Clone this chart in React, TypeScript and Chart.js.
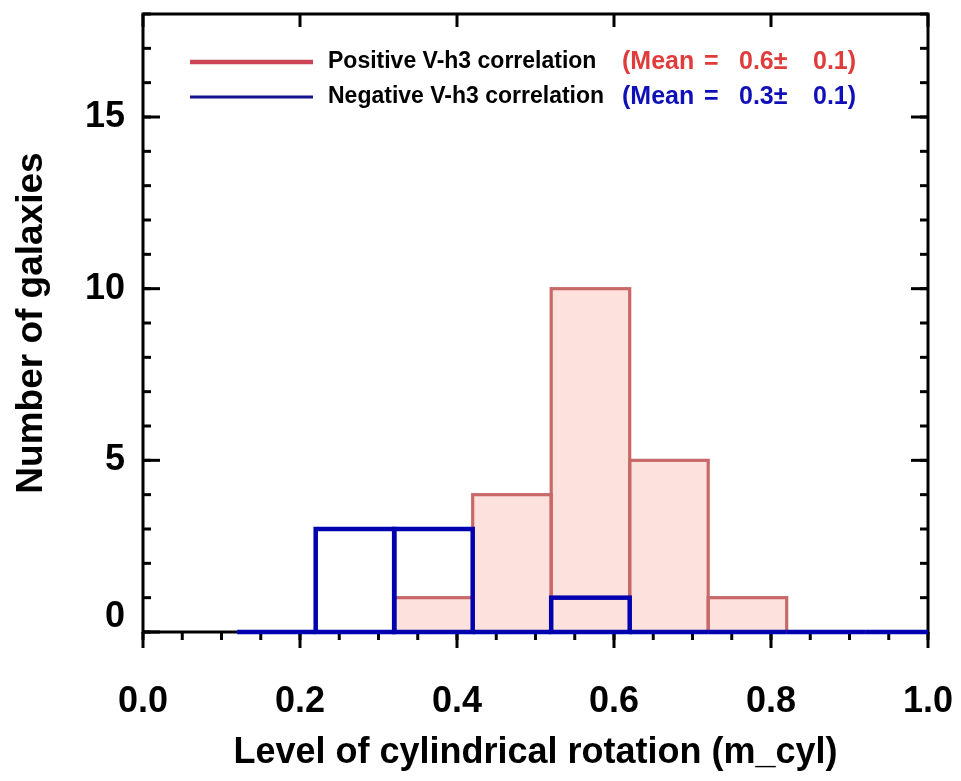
import React, { useEffect, useRef } from "react";
import { Chart, registerables } from "chart.js";

Chart.register(...registerables);

// ---- data ----
const binCenters = [0.17, 0.27, 0.37, 0.47, 0.57, 0.67, 0.77, 0.87, 0.97];
const positiveCounts = [0, 0, 1, 4, 10, 5, 1, 0, 0];
const negativeCounts = [0, 3, 3, 0, 1, 0, 0, 0, 0];

const xRange = [0, 1];
const yRange = [0, 18];
const xTickValues = [0, 0.2, 0.4, 0.6, 0.8, 1.0];
const xTickLabels = ["0.0", "0.2", "0.4", "0.6", "0.8", "1.0"];
const xMinorStep = 0.05;
const yTickValues = [0, 5, 10, 15];
const yTickLabels = ["0", "5", "10", "15"];
const yMinorStep = 1;

const legendLabels = ["Positive V-h3 correlation", "Negative V-h3 correlation"];
const meanValues = ["0.6±", "0.3±"];
const meanErrors = ["0.1)", "0.1)"];

const xTitle = "Level of cylindrical rotation (m_cyl)";
const yTitle = "Number of galaxies";

const FONT = "'Liberation Sans', Arial, Helvetica, sans-serif";
const RED_LINE = "#c86868";
const RED_FILL = "#fde1dd";
const BLUE_LINE = "#0000b0";

const outlinePlugin = {
  id: "histOutline",
  afterDatasetDraw(chart: any, args: any) {
    const ds: any = chart.data.datasets[args.index];
    if (!ds.outlineColor) return;
    const { ctx, chartArea } = chart;
    ctx.save();
    ctx.beginPath();
    ctx.rect(
      chartArea.left,
      chartArea.top - 20,
      chartArea.right - chartArea.left,
      chartArea.bottom - chartArea.top + 40
    );
    ctx.clip();
    ctx.strokeStyle = ds.outlineColor;
    ctx.lineWidth = ds.outlineWidth;
    ctx.lineJoin = "miter";
    args.meta.data.forEach((el: any) => {
      const { x, y, base, width } = el.getProps(["x", "y", "base", "width"], true);
      ctx.strokeRect(x - width / 2, Math.min(y, base), width, Math.abs(base - y));
    });
    ctx.restore();
  },
};

const framePlugin = {
  id: "frameTicks",
  beforeDatasetsDraw(chart: any) {
    const { ctx, chartArea, scales } = chart;
    const { left, right, top, bottom } = chartArea;
    const xs = scales.x;
    const ys = scales.y;
    ctx.save();
    ctx.strokeStyle = "#000";
    ctx.lineWidth = 3;
    ctx.lineCap = "butt";
    ctx.strokeRect(left, top, right - left, bottom - top);
    const line = (x1: number, y1: number, x2: number, y2: number) => {
      ctx.beginPath();
      ctx.moveTo(x1, y1);
      ctx.lineTo(x2, y2);
      ctx.stroke();
    };
    for (let v = xRange[0]; v <= xRange[1] + 1e-9; v += xMinorStep) {
      const px = xs.getPixelForValue(v);
      line(px, bottom, px, bottom + 8);
    }
    xTickValues.forEach((v) => {
      const px = xs.getPixelForValue(v);
      line(px, bottom, px, bottom + 16);
      line(px, top, px, top + 13);
    });
    for (let v = yRange[0]; v <= yRange[1] + 1e-9; v += yMinorStep) {
      const py = ys.getPixelForValue(v);
      line(left, py, left + 8, py);
      line(right, py, right - 8, py);
    }
    yTickValues.forEach((v) => {
      const py = ys.getPixelForValue(v);
      line(left, py, left + 17, py);
      line(right, py, right - 17, py);
    });
    ctx.restore();
  },
};

const legendPlugin = {
  id: "customLegend",
  afterDraw(chart: any) {
    const { ctx, chartArea } = chart;
    const L = chartArea.left;
    const T = chartArea.top;
    const rows = [
      { y: T + 48, line: "#cc4455", lw: 4.5, mean: "#e03c3c" },
      { y: T + 83, line: "#14148c", lw: 3, mean: "#1010b8" },
    ];
    ctx.save();
    ctx.textBaseline = "middle";
    ctx.textAlign = "left";
    rows.forEach((r, i) => {
      ctx.strokeStyle = r.line;
      ctx.lineWidth = r.lw;
      ctx.beginPath();
      ctx.moveTo(L + 47, r.y);
      ctx.lineTo(L + 170, r.y);
      ctx.stroke();
      ctx.font = `bold 23px ${FONT}`;
      ctx.fillStyle = "#000";
      ctx.fillText(legendLabels[i], L + 185, r.y);
      ctx.fillStyle = r.mean;
      ctx.font = `bold 25px ${FONT}`;
      ctx.fillText("(Mean", L + 479, r.y);
      ctx.fillText("=", L + 561, r.y);
      ctx.fillText(meanValues[i], L + 596, r.y);
      ctx.fillText(meanErrors[i], L + 670, r.y);
    });
    ctx.restore();
  },
};

export default function App() {
  const ref = useRef<HTMLCanvasElement | null>(null);
  useEffect(() => {
    document.body.style.margin = "0";
    const canvas = ref.current;
    if (!canvas) return;
    const tickFont = { family: FONT, size: 36, weight: "bold" as const };
    const chart = new Chart(canvas, {
      type: "bar",
      data: {
        datasets: [
          {
            type: "bar",
            label: legendLabels[1],
            data: binCenters.map((x, i) => ({ x, y: negativeCounts[i] })),
            backgroundColor: "rgba(0,0,0,0)",
            borderWidth: 0,
            grouped: false,
            barPercentage: 1,
            categoryPercentage: 1,
            order: 1,
            outlineColor: BLUE_LINE,
            outlineWidth: 4.5,
          } as any,
          {
            type: "bar",
            label: legendLabels[0],
            data: binCenters.map((x, i) => ({ x, y: positiveCounts[i] })),
            backgroundColor: RED_FILL,
            borderWidth: 0,
            grouped: false,
            barPercentage: 1,
            categoryPercentage: 1,
            order: 2,
            outlineColor: RED_LINE,
            outlineWidth: 3.2,
          } as any,
        ],
      },
      options: {
        animation: false,
        responsive: false,
        devicePixelRatio: 1,
        layout: { padding: { top: 14, right: 33, left: 0, bottom: 0 } },
        plugins: { legend: { display: false }, tooltip: { enabled: false } },
        scales: {
          x: {
            type: "linear",
            min: xRange[0],
            max: xRange[1],
            offset: false,
            grid: { display: false, drawTicks: false, offset: false },
            border: { display: false },
            afterBuildTicks: (s: any) => {
              s.ticks = xTickValues.map((v) => ({ value: v }));
            },
            ticks: {
              font: tickFont,
              color: "#000",
              padding: 48,
              maxRotation: 0,
              autoSkip: false,
              callback: (_v: any, i: number) => xTickLabels[i],
            },
            title: {
              display: true,
              text: xTitle,
              color: "#000",
              font: tickFont,
              padding: { top: 0, bottom: 6 },
            },
            afterFit: (s: any) => {
              s.height = 149;
              s.paddingLeft = 0;
              s.paddingRight = 0;
            },
          },
          y: {
            type: "linear",
            min: yRange[0],
            max: yRange[1],
            grid: { display: false, drawTicks: false },
            border: { display: false },
            afterBuildTicks: (s: any) => {
              s.ticks = yTickValues.map((v) => ({ value: v }));
            },
            ticks: {
              font: { ...tickFont, lineHeight: 0.83 },
              color: "#000",
              padding: 18,
              autoSkip: false,
              // the zero label sits slightly above its tick in the original
              callback: (_v: any, i: number) =>
                i === 0 ? [yTickLabels[i], ""] : yTickLabels[i],
            },
            title: {
              display: true,
              text: yTitle,
              color: "#000",
              font: { family: FONT, size: 37, weight: "bold" },
              padding: { top: 10, bottom: 0 },
            },
            afterFit: (s: any) => {
              s.width = 143;
              s.paddingTop = 0;
              s.paddingBottom = 0;
            },
          },
        },
      } as any,
      plugins: [framePlugin, outlinePlugin, legendPlugin],
    });
    return () => chart.destroy();
  }, []);
  return (
    <canvas
      ref={ref}
      width={961}
      height={781}
      style={{ display: "block", width: 961, height: 781 }}
    />
  );
}
